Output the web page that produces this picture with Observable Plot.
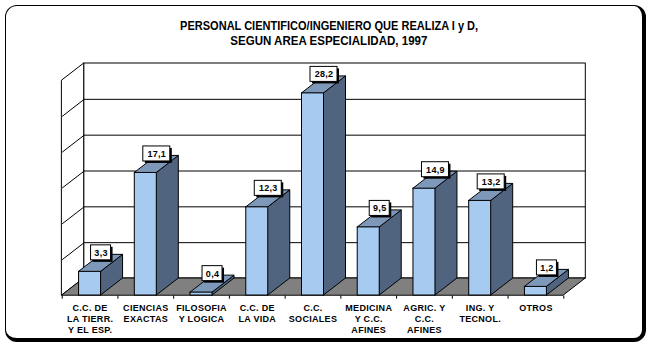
<!DOCTYPE html>
<html><head><meta charset="utf-8">
<script src="https://cdn.jsdelivr.net/npm/d3@7"></script>
<script src="https://cdn.jsdelivr.net/npm/@observablehq/plot@0.6"></script>
<style>
body{margin:0;background:#fff;}
#wrap{position:relative;width:655px;height:352px;overflow:hidden;background:#fff;}
#title{position:absolute;left:4px;width:650px;top:19px;text-align:center;font-family:"Liberation Sans",Arial,sans-serif;font-weight:bold;font-size:12.5px;line-height:15px;color:#000;white-space:nowrap;}
#title span{display:inline-block;transform-origin:50% 50%;}
#chart{position:absolute;left:0;top:52px;}
#frame{position:absolute;left:5px;top:5px;width:641px;height:337px;box-sizing:border-box;border:1px solid #000;border-right-width:4px;border-bottom-width:4px;border-radius:12px;pointer-events:none;}
</style>
</head><body>
<div id="wrap">
  <div id="title"><span data-w="298">PERSONAL CIENTIFICO/INGENIERO QUE REALIZA I y D,</span><br><span data-w="197">SEGUN AREA ESPECIALIDAD, 1997</span></div>
  <div id="chart"></div>
  <div id="frame"></div>
</div>
<script>
const categories = [
  "C.C. DE\nLA TIERR.\nY EL ESP.",
  "CIENCIAS\nEXACTAS",
  "FILOSOFIA\nY LOGICA",
  "C.C. DE\nLA VIDA",
  "C.C.\nSOCIALES",
  "MEDICINA\nY C.C.\nAFINES",
  "AGRIC. Y\nC.C.\nAFINES",
  "ING. Y\nTECNOL.",
  "OTROS"
];
const values = [3.3, 17.1, 0.4, 12.3, 28.2, 9.5, 14.9, 13.2, 1.2];
const valueLabels = ["3,3", "17,1", "0,4", "12,3", "28,2", "9,5", "14,9", "13,2", "1,2"];
const gridValues = [5, 10, 15, 20, 25];
const yMax = 30;

// geometry (chart layout)
const n = categories.length;
const xRange = [61.7, 563.3], yRange = [243, 28];
const pxPerCat = (xRange[1] - xRange[0]) / n;
const pxPerUnit = (yRange[0] - yRange[1]) / yMax;
const ddx = 22 / pxPerCat;      // depth offset in x units
const ddy = 17 / pxPerUnit;     // depth offset in y units
const hw = 11 / pxPerCat;       // half width of bar front

const bars = values.map((v, i) => ({i, c: i + 0.5, v, label: valueLabels[i], cat: categories[i]}));
const sidePts = bars.flatMap(b => [
  {id: b.i, x: b.c + hw, y1: 0, y2: b.v},
  {id: b.i, x: b.c + hw + ddx, y1: ddy, y2: b.v + ddy}
]);
const topPts = bars.flatMap(b => [
  {id: b.i, y: b.v, x1: b.c - hw, x2: b.c + hw},
  {id: b.i, y: b.v + ddy, x1: b.c - hw + ddx, x2: b.c + hw + ddx}
]);
const floorPts = [{y: 0, x1: 0, x2: n}, {y: ddy, x1: ddx, x2: n + ddx}];
const leftWallPts = [{x: 0, y1: 0, y2: yMax}, {x: ddx, y1: ddy, y2: yMax + ddy}];
const tickPos = d3.range(n + 1);

const font = "Liberation Sans, Arial, sans-serif";
const short = bars.filter(b => b.label.length <= 3);
const long = bars.filter(b => b.label.length > 3);
const lx = b => b.c + ddx / 2, ly = b => b.v + ddy / 2;
function boxMarks(data, w) {
  return [
    Plot.rect(data, {x1: lx, x2: lx, y1: ly, y2: ly, fill: "black",
      insetLeft: -w/2 + 2, insetRight: -w/2 - 2, insetTop: -16, insetBottom: 1}),
    Plot.rect(data, {x1: lx, x2: lx, y1: ly, y2: ly, fill: "white", stroke: "black",
      insetLeft: -w/2, insetRight: -w/2, insetTop: -18, insetBottom: 3})
  ];
}

const chart = Plot.plot({
  width: 655, height: 300,
  margin: 0,
  x: {domain: [0, n], range: xRange, axis: null},
  y: {domain: [0, yMax], range: yRange, axis: null},
  style: {background: "transparent", overflow: "visible"},
  marks: [
    Plot.rect([0], {x1: ddx, x2: n + ddx, y1: ddy, y2: yMax + ddy, fill: "white", stroke: "black"}),
    Plot.areaY(leftWallPts, {x: "x", y1: "y1", y2: "y2", fill: "white", stroke: "black", curve: "linear"}),
    Plot.ruleY(gridValues, {y: d => d + ddy, x1: ddx, x2: n + ddx, stroke: "black"}),
    Plot.link(gridValues, {x1: 0, y1: d => d, x2: ddx, y2: d => d + ddy, stroke: "black"}),
    Plot.areaX(floorPts, {y: "y", x1: "x1", x2: "x2", fill: "#808080", stroke: "black", curve: "linear"}),
    Plot.link(tickPos, {x1: d => d, x2: d => d, y1: 0, y2: -0.45, stroke: "black"}),
    Plot.areaY(sidePts, {x: "x", y1: "y1", y2: "y2", z: "id", fill: "#51647F", stroke: "black", curve: "linear"}),
    Plot.areaX(topPts, {y: "y", x1: "x1", x2: "x2", z: "id", fill: "#7E98BA", stroke: "black", curve: "linear"}),
    Plot.rect(bars, {x1: b => b.c - hw, x2: b => b.c + hw, y1: 0, y2: "v", fill: "#A6CAF0", stroke: "black"}),
    ...boxMarks(short, 20),
    ...boxMarks(long, 27),
    Plot.text(bars, {x: lx, y: ly, dy: -10.5, text: "label", fontSize: 9, fontWeight: "bold", fontFamily: font, fill: "black"}),
    Plot.text(bars, {x: "c", y: 0, dy: 7.5, text: "cat", lineAnchor: "top", lineHeight: 1.22, fontSize: 9, fontWeight: "bold", fontFamily: font, fill: "black"})
  ]
});
d3.select(chart).selectAll("text").style("letter-spacing", "0.3px");
document.getElementById("chart").appendChild(chart);

document.querySelectorAll("#title span").forEach(s => {
  const w = s.getBoundingClientRect().width;
  const target = +s.dataset.w;
  if (w > 0) s.style.transform = `scaleX(${target / w})`;
});
</script>
</body></html>
